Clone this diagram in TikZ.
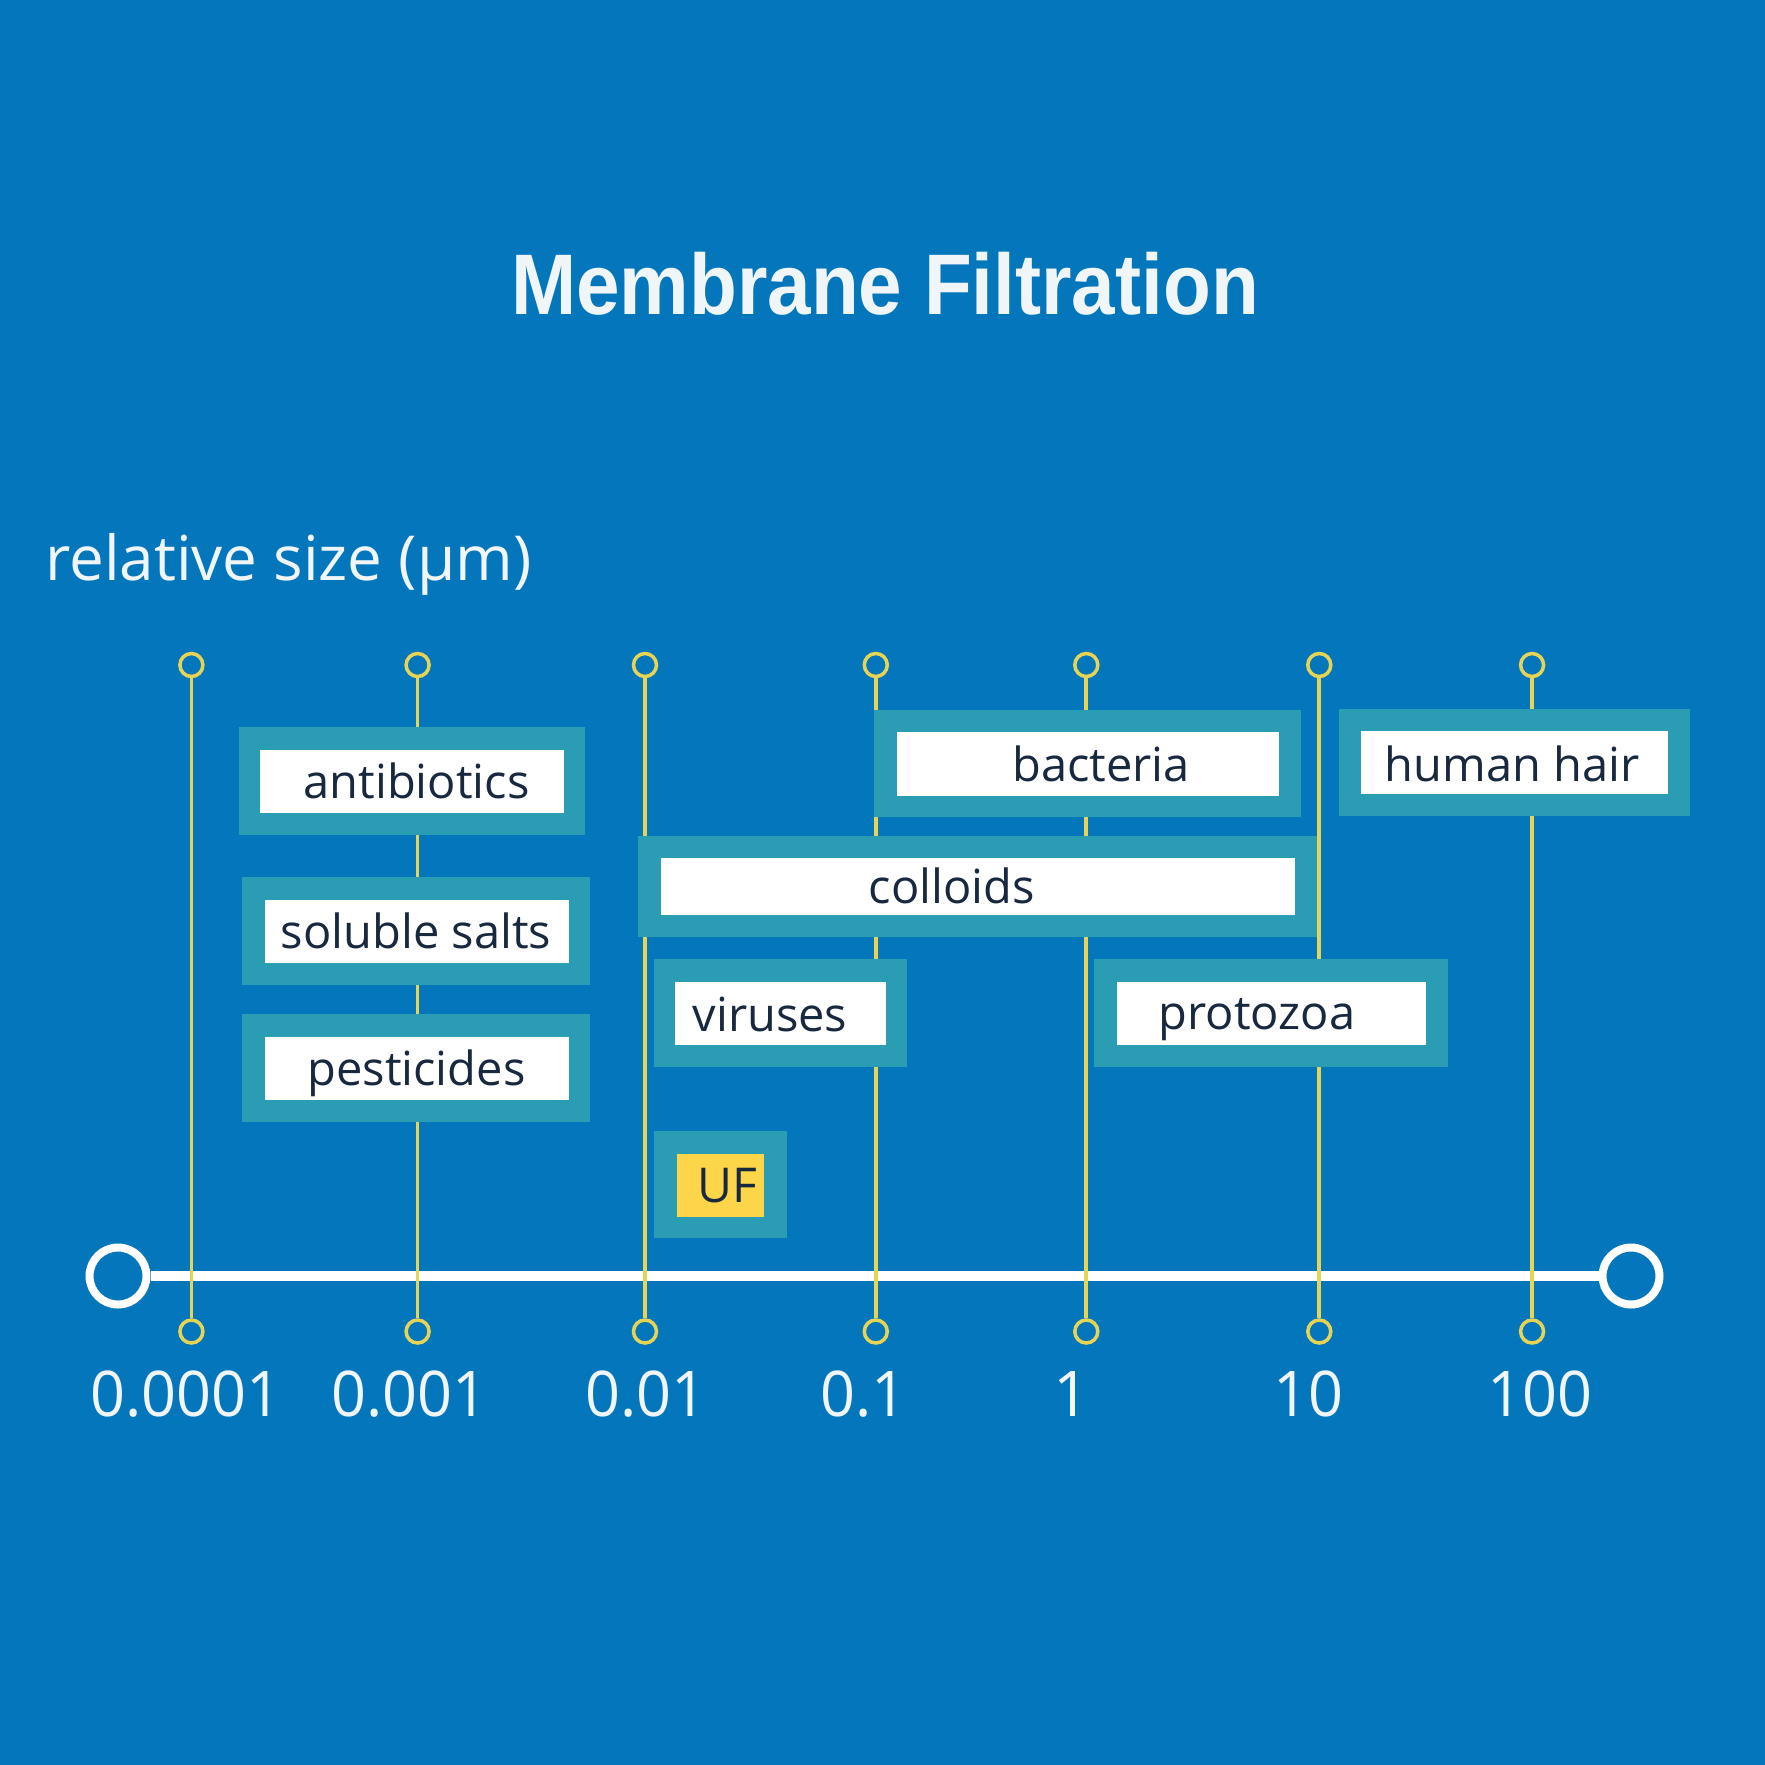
\documentclass[tikz,border=0pt]{standalone}
\usepackage{fontspec}
\usepackage{graphicx}
\setmainfont{Open Sans}
\newfontfamily\titlefont{Liberation Sans}
\definecolor{bg}{RGB}{4,118,187}
\definecolor{tealbox}{RGB}{42,157,180}
\definecolor{tick}{RGB}{232,212,84}
\definecolor{ufyellow}{RGB}{252,213,72}
\definecolor{ink}{RGB}{24,40,62}
\definecolor{offwhite}{RGB}{240,246,248}
\begin{document}
\begin{tikzpicture}[x=1pt,y=-1pt,
  outerbox/.style={fill=tealbox, inner sep=0pt, outer sep=0pt, rectangle},
  innerbox/.style={fill=white, inner sep=0pt, outer sep=0pt, rectangle},
  boxtext/.style={anchor=base, inner sep=0pt, text=ink, font=\fontsize{47}{50}\selectfont},
  axislabel/.style={anchor=base, inner sep=0pt, text=offwhite, font=\fontsize{63}{66}\selectfont},
  tickline/.style={draw=tick, line width=3.7pt},
  tickdot/.style={circle, draw=tick, line width=3.5pt, minimum size=23pt, inner sep=0pt},
  endring/.style={circle, draw=white, line width=8pt, minimum size=57pt, inner sep=0pt},
  axisline/.style={draw=white, line width=9.5pt}]
\useasboundingbox (0,0) rectangle (1765,1765);
\fill[bg] (0,0) rectangle (1765,1765);

% title and axis caption
\node[anchor=base, inner sep=0pt, text=offwhite, font=\titlefont\bfseries\fontsize{86}{90}\selectfont] (title) at (885,314) {\scalebox{0.91}[1]{Membrane Filtration}};
\node[anchor=base west, inner sep=0pt, text=offwhite, font=\fontsize{62}{66}\selectfont] (caption) at (45,580) {relative size (µm)};

% axis
\node[endring] (axL) at (118,1276) {};
\node[endring] (axR) at (1631,1276) {};
\draw[axisline] (axL) -- (axR);

% ticks
\foreach \i/\x in {1/191.4,2/417.6,3/645,4/875.8,5/1086.3,6/1319.3,7/1532.1}{
  \node[tickdot] (top\i) at (\x,665) {};
  \node[tickdot] (bot\i) at (\x,1331.5) {};
  \draw[tickline] (top\i) -- (bot\i);
}

% axis labels
\node[axislabel] (v1) at (185.6,1416) {\scalebox{0.97}[1]{0.0001}};
\node[axislabel] (v2) at (409.6,1416) {\scalebox{0.97}[1]{0.001}};
\node[axislabel] (v3) at (646,1416) {\scalebox{0.97}[1]{0.01}};
\node[axislabel] (v4) at (863.3,1416) {\scalebox{0.97}[1]{0.1}};
\node[axislabel] (v5) at (1071.5,1416) {1};
\node[axislabel] (v6) at (1308,1416) {\scalebox{0.97}[1]{10}};
\node[axislabel] (v7) at (1539.8,1416) {\scalebox{0.97}[1]{100}};

% boxes
\node[outerbox, minimum width=346.7pt, minimum height=108pt] (antiO) at (412,781.3) {};
\node[innerbox, minimum width=304pt, minimum height=63pt] (antiI) at (412,781.2) {};
\node[boxtext] (antiT) at (416.5,798) {antibiotics};

\node[outerbox, minimum width=348pt, minimum height=108pt] (saltO) at (416,931) {};
\node[innerbox, minimum width=304pt, minimum height=63pt] (saltI) at (416.5,931) {};
\node[boxtext] (saltT) at (416,948) {soluble salts};

\node[outerbox, minimum width=348pt, minimum height=108pt] (pestO) at (416,1068.3) {};
\node[innerbox, minimum width=304pt, minimum height=63pt] (pestI) at (416.5,1068.3) {};
\node[boxtext] (pestT) at (416.5,1085) {pesticides};

\node[outerbox, minimum width=427.8pt, minimum height=107pt] (bactO) at (1087.4,763.8) {};
\node[innerbox, minimum width=381.6pt, minimum height=64pt] (bactI) at (1088,763.8) {};
\node[boxtext] (bactT) at (1101,781) {bacteria};

\node[outerbox, minimum width=351.2pt, minimum height=107pt] (hairO) at (1514.1,762.7) {};
\node[innerbox, minimum width=307.3pt, minimum height=63pt] (hairI) at (1514.7,762.1) {};
\node[boxtext] (hairT) at (1512,781) {human hair};

\node[outerbox, minimum width=678.7pt, minimum height=100.2pt] (collO) at (977.7,886.5) {};
\node[innerbox, minimum width=633.8pt, minimum height=57.4pt] (collI) at (977.7,886.5) {};
\node[boxtext] (collT) at (952,903) {colloids};

\node[outerbox, minimum width=253.3pt, minimum height=108pt] (virO) at (780.7,1013.2) {};
\node[innerbox, minimum width=210.5pt, minimum height=63pt] (virI) at (780.7,1013.1) {};
\node[boxtext] (virT) at (770,1031) {viruses};

\node[outerbox, minimum width=353.4pt, minimum height=108pt] (protO) at (1270.9,1013.2) {};
\node[innerbox, minimum width=309.6pt, minimum height=63pt] (protI) at (1271.5,1013.1) {};
\node[boxtext] (protT) at (1257,1029) {protozoa};

\node[outerbox, minimum width=132.9pt, minimum height=107pt] (ufO) at (720.5,1184.9) {};
\node[innerbox, fill=ufyellow, minimum width=87.9pt, minimum height=63pt] (ufI) at (720.5,1185.4) {};
\node[boxtext, font=\fontsize{48}{50}\selectfont] (ufT) at (727,1202) {UF};
\end{tikzpicture}
\end{document}
